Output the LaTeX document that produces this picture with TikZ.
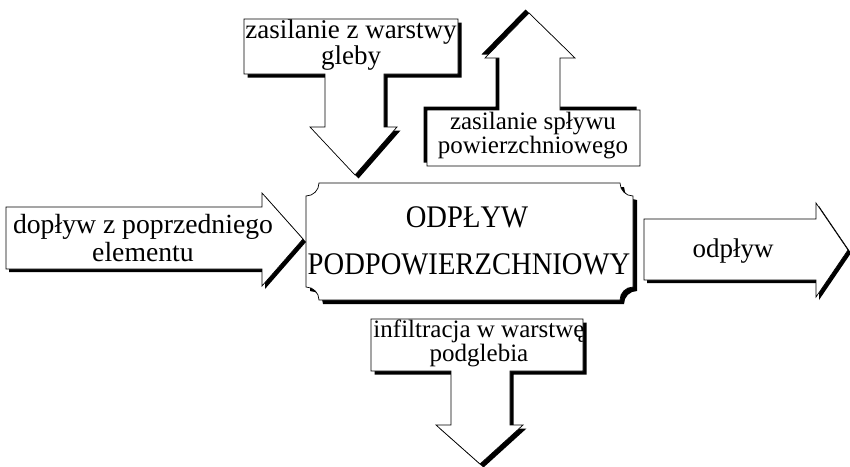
\documentclass[tikz,border=0pt]{standalone}
\usepackage{fontspec}
\setmainfont{Liberation Serif}
\begin{document}
\begin{tikzpicture}[x=1pt,y=-1pt]
\tikzset{
  shapebox/.style={draw=black,fill=white,line width=0.7pt,line join=miter},
  shadowbox/.style={fill=black,draw=none},
  lbl/.style={anchor=base,inner sep=0pt,outer sep=0pt,align=center},
  fsmall/.style={font=\fontsize{25}{21}\selectfont},
  fmid/.style={font=\fontsize{27}{22}\selectfont},
  fleft/.style={font=\fontsize{27.7}{28}\selectfont},
  fbig/.style={font=\fontsize{28.6}{28.6}\selectfont}
}
\useasboundingbox (0,0) rectangle (850,466);
\fill[white] (0,0) rectangle (850,466);

% A: top-left down arrow (shadow down-right)
\def\pathA{(244,19) -- (458,19) -- (458,74) -- (384,74) -- (384,127) -- (397,127) -- (355,175) -- (310,127) -- (325,127) -- (325,74) -- (244,74) -- cycle}
\fill[shadowbox,shift={(3.5,3.5)}] \pathA;
\draw[shapebox] \pathA;
\node[lbl,fmid] (a) at (351,64) {zasilanie z warstwy\\gleby};

% B: up arrow (shadow up-left)
\def\pathB{(427,110) -- (499,110) -- (499,58) -- (485,58) -- (529,13) -- (575,58) -- (560,58) -- (560,110) -- (640,110) -- (640,166) -- (427,166) -- cycle}
\fill[shadowbox,shift={(-3.5,-3.5)}] \pathB;
\draw[shapebox] \pathB;
\node[lbl,fsmall] (b) at (533,153) {zasilanie spływu\\powierzchniowego};

% C: left arrow pointing right (shadow down-right)
\def\pathC{(6,207) -- (262,207) -- (262,193) -- (303,239) -- (262,286) -- (262,269) -- (6,269) -- cycle}
\fill[shadowbox,shift={(3,3)}] \pathC;
\draw[shapebox] \pathC;
\node[lbl,fleft] (c) at (143,261) {dopływ z poprzedniego\\elementu};

% D: central box with concave corners (shadow down-right)
\def\pathD{(319,183) -- (620,183) arc[start angle=180,end angle=90,radius=13] -- (633,287) arc[start angle=270,end angle=180,radius=13] -- (319,300) arc[start angle=0,end angle=-90,radius=13] -- (306,196) arc[start angle=90,end angle=0,radius=13] -- cycle}
\fill[shadowbox,shift={(4,4)}] \pathD;
\draw[shapebox] \pathD;
\node[lbl,fbig] (d1) at (467,227) {\scalebox{1}[1.1]{ODPŁYW}};
\node[lbl,fbig] (d2) at (469,274) {\scalebox{1}[1.1]{PODPOWIERZCHNIOWY}};

% E: right arrow (shadow down-right)
\def\pathE{(644,219) -- (816,219) -- (816,203) -- (848,250) -- (816,297) -- (816,280) -- (644,280) -- cycle}
\fill[shadowbox,shift={(3,3)}] \pathE;
\draw[shapebox] \pathE;
\node[lbl,fmid] (e) at (733,257) {odpływ};

% F: bottom down arrow (shadow down-right)
\def\pathF{(371,319) -- (583,319) -- (583,371) -- (510,371) -- (510,425) -- (523,425) -- (480,464) -- (436,425) -- (451,425) -- (451,371) -- (371,371) -- cycle}
\fill[shadowbox,shift={(3.5,3.5)}] \pathF;
\draw[shapebox] \pathF;
\node[lbl,fsmall] (f) at (479,361) {infiltracja w warstwę\\podglebia};
\end{tikzpicture}
\end{document}
